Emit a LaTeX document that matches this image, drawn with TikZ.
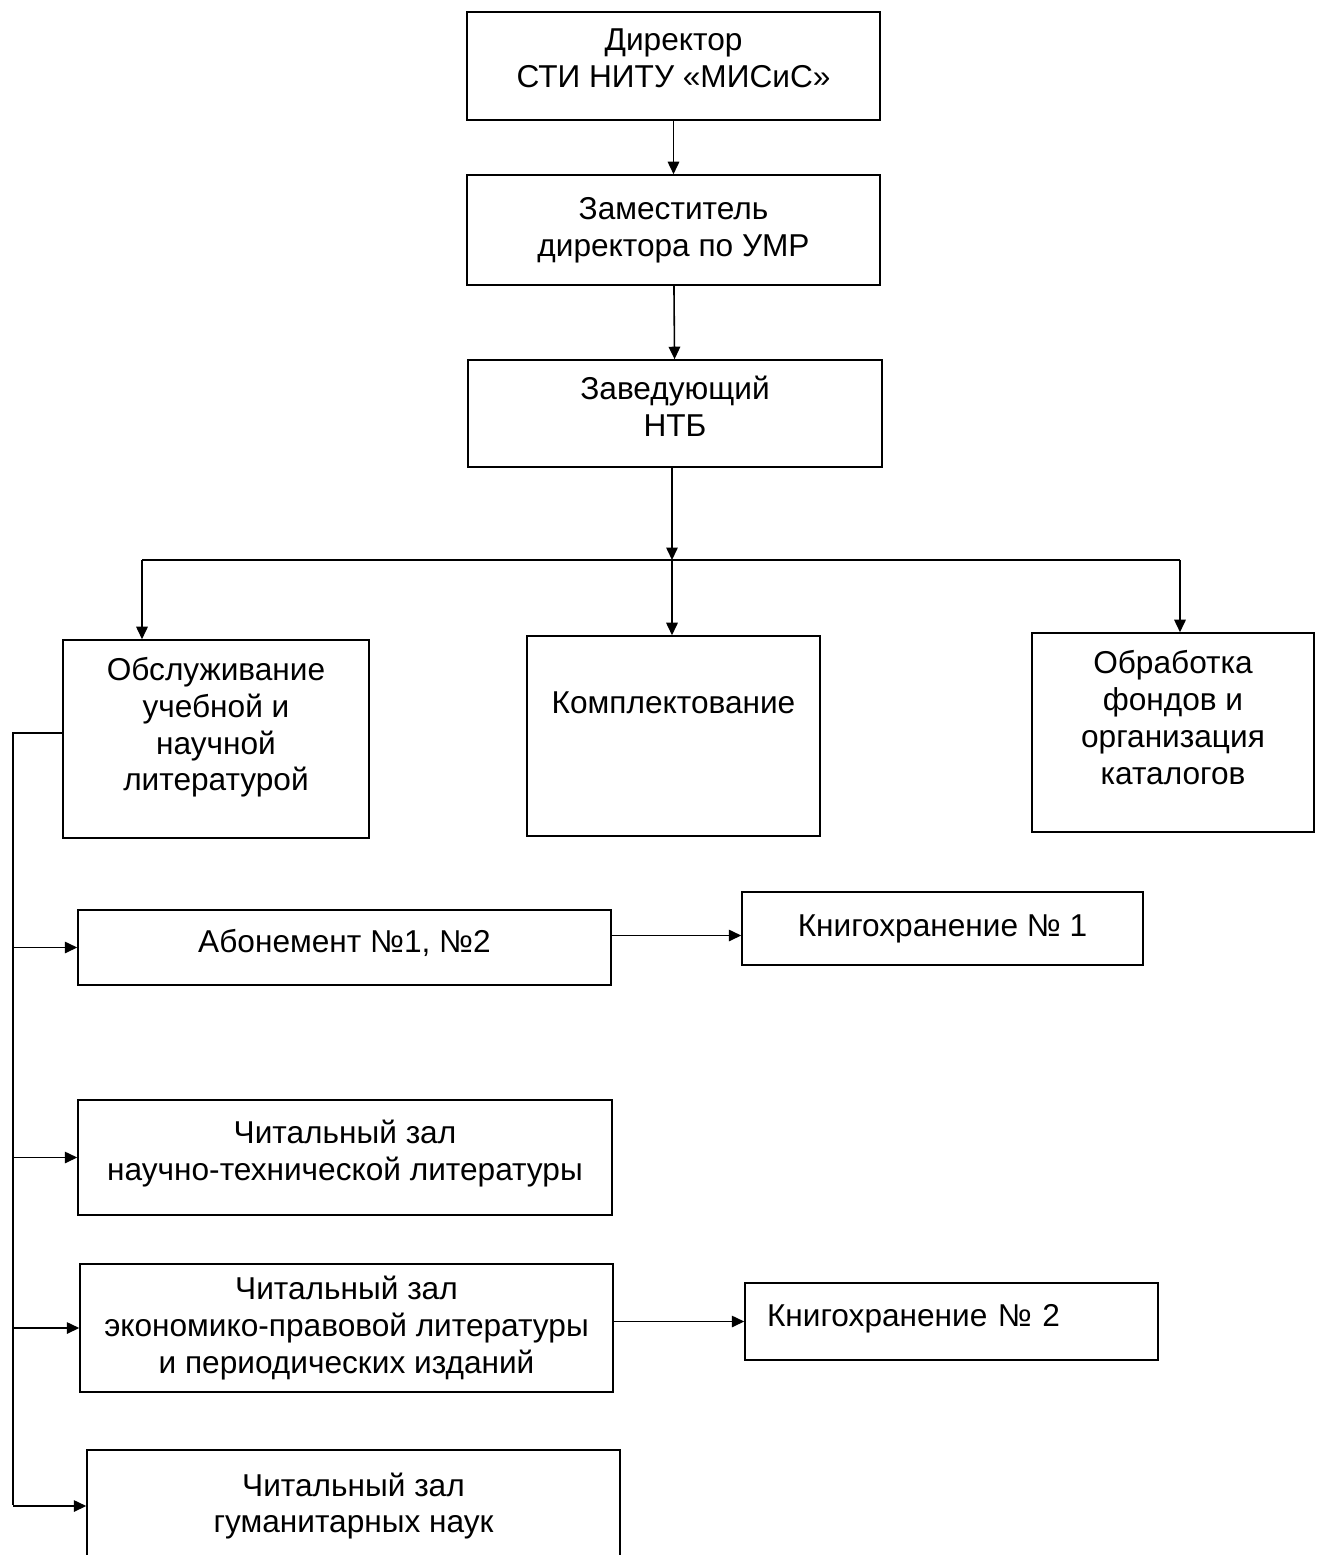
\documentclass[tikz,border=0pt]{standalone}
\usepackage{fontspec}
\setmainfont{Liberation Sans}
\usepackage{tikz}
\usetikzlibrary{arrows.meta}

\begin{document}
\begin{tikzpicture} [x=0.02cm, y=-0.02cm,
	box/.style={draw=black, line width=0.9pt, rectangle, align=center, inner sep=2pt,
		font=\fontsize{18}{21}\selectfont},
	arr/.style={draw=black, line width=0.9pt, -{Triangle[length=2.5mm, width=2.3mm]}},
	ln/.style={draw=black, line width=0.9pt}]
					\useasboundingbox (0, 0) rectangle (1316, 1555);
					\clip (0, 0) rectangle (1316, 1555);

					\node [box, minimum width=8.26cm, minimum height=2.16cm, text depth=0.3cm] (dir) at (673.5, 66) {Директор\\СТИ НИТУ «МИСиС»};
					\node [box, minimum width=8.26cm, minimum height=2.2cm] (zam) at (673.5, 230) {Заместитель\\директора по УМР};
					\node [box, minimum width=8.28cm, minimum height=2.14cm, text depth=0.3cm] (zav) at (675, 413.5) {Заведующий\\НТБ};

					\node [box, minimum width=6.12cm, minimum height=3.96cm, text depth=0.6cm] (obsl) at (216, 739) {Обслуживание\\учебной и\\научной\\литературой};
					\node [box, minimum width=5.86cm, minimum height=4cm, text depth=1.35cm] (kompl) at (673.5, 736) {Комплектование};
					\node [box, minimum width=5.64cm, minimum height=3.98cm, text depth=0.6cm] (obrab) at (1173, 732.5) {Обработка\\фондов и\\организация\\каталогов};

					\node [box, minimum width=10.66cm, minimum height=1.5cm, text depth=0.25cm] (abon) at (344.5, 947.5) {Абонемент №1, №2};
					\node [box, minimum width=8.02cm, minimum height=1.46cm] (kh1) at (942.5, 928.5) {Книгохранение № 1};
					\node [box, minimum width=10.68cm, minimum height=2.3cm, text depth=0.3cm] (ntl) at (345, 1157.5) {Читальный зал\\научно-технической литературы};
					\node [box, minimum width=10.66cm, minimum height=2.56cm] (ekon) at (346.5, 1328) {Читальный зал\\экономико-правовой литературы\\и периодических изданий};
					\node [box, text width=7.38cm, align=left, inner xsep=0.44cm, minimum height=1.54cm, text depth=0.25cm] (kh2) at (951.5, 1321.5) {Книгохранение № 2};
					\node [box, minimum width=10.66cm, minimum height=2.24cm] (gum) at (353.5, 1506) {Читальный зал\\гуманитарных наук};

					\draw [arr] (dir) -- (zam);
					\draw [arr] (zam) -- (zav);

					\coordinate (jn) at (672, 560);
					\coordinate (bl) at (142, 560);
					\coordinate (br) at (1180, 560);
					\draw [arr] (zav.south -| jn) -- (jn);
					\draw [ln] (bl) -- (br);
					\draw [arr] (bl) -- (bl |- obsl.north);
					\draw [arr] (jn) -- (jn |- kompl.north);
					\draw [arr] (br) -- (br |- obrab.north);

					\coordinate (bus) at (13, 1505);
					\draw [ln] ([yshift=0.12cm]obsl.west) -| (bus);
					\draw [arr] (bus |- abon.west) -- (abon.west);
					\draw [arr] (bus |- ntl.west) -- (ntl.west);
					\draw [arr] (bus |- ekon.west) -- (ekon.west);
					\draw [arr] (bus |- gum.west) -- (gum.west);

					\draw [arr] ([yshift=-0.14cm]abon.east |- kh1.west) -- ([yshift=-0.14cm]kh1.west);
					\draw [arr] (ekon.east |- kh2.west) -- (kh2.west);
				\end{tikzpicture}
\end{document}
